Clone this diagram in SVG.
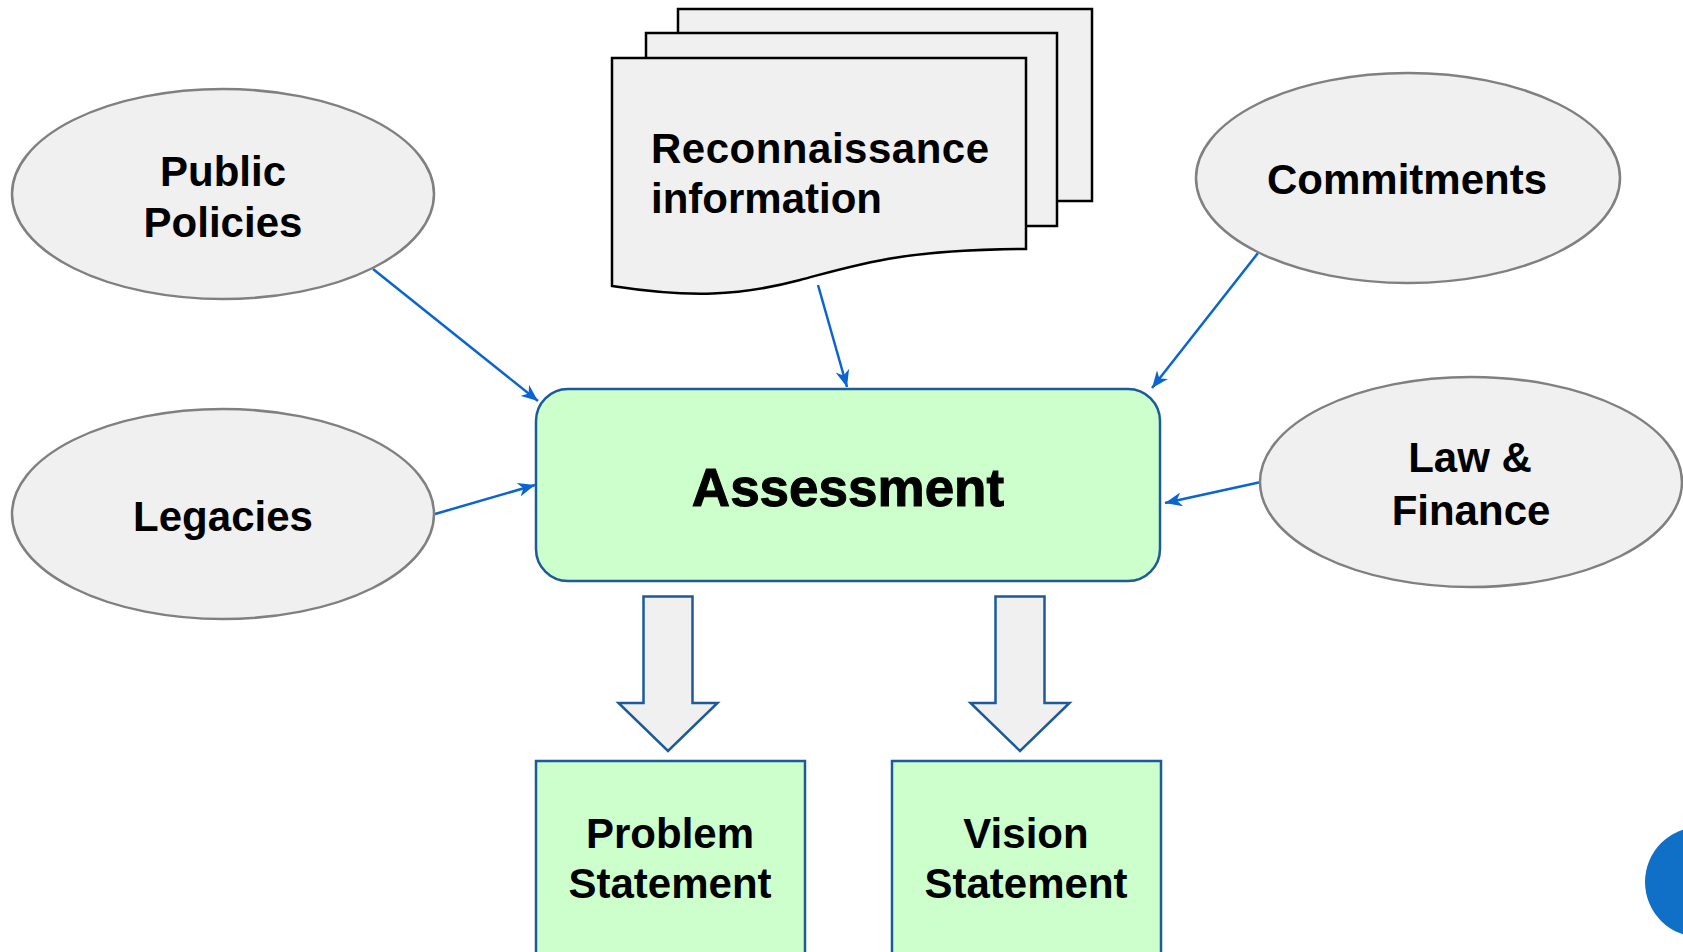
<svg xmlns="http://www.w3.org/2000/svg" width="1683" height="952" viewBox="0 0 1683 952">
<style>
.ell{fill:#f0f0f0;stroke:#808080;stroke-width:2.5}
.doc{fill:#f0f0f0;stroke:#000;stroke-width:2.5}
.grn{fill:#ccffcc;stroke:#1c5a99;stroke-width:2.5}
.blk{fill:#f0f0f0;stroke:#1c5a99;stroke-width:2.5;stroke-linejoin:miter}
.con{fill:none;stroke:#0a64d2;stroke-width:2.5;marker-end:url(#ah)}
text{font-family:"Liberation Sans",Arial,sans-serif;font-weight:bold;fill:#000;text-anchor:middle}
.t42{font-size:42px}
</style>
<defs>
<marker id="ah" markerUnits="userSpaceOnUse" markerWidth="18" markerHeight="14" refX="17" refY="7" orient="auto">
<path d="M0,0 L17,7 L0,14 L5,7 z" fill="#0a64d2"/>
</marker>
</defs>
<rect width="1683" height="952" fill="#fff"/>
<g id="connectors">
<line class="con" x1="373" y1="269" x2="538" y2="401"/>
<line class="con" x1="435" y1="514" x2="535" y2="485"/>
<line class="con" x1="818" y1="285" x2="847" y2="387"/>
<line class="con" x1="1258" y1="253" x2="1152" y2="388"/>
<line class="con" x1="1261" y1="482" x2="1165" y2="503"/>
<path class="blk" d="M643.5,596.5 H692.5 V703 H717.5 L668,751 L618.5,703 H643.5 Z"/>
<path class="blk" d="M995.5,596.5 H1044.5 V703 H1069.5 L1020,751 L970.5,703 H995.5 Z"/>
</g>
<g id="public-policies">
<ellipse class="ell" cx="223" cy="194" rx="211" ry="105"/>
<text class="t42" x="223" y="186">Public</text>
<text class="t42" x="223" y="237">Policies</text>
</g>
<g id="legacies">
<ellipse class="ell" cx="223" cy="514" rx="211" ry="105"/>
<text class="t42" x="223" y="531">Legacies</text>
</g>
<g id="reconnaissance">
<rect class="doc" x="678" y="9" width="414" height="192"/>
<rect class="doc" x="646" y="33" width="411" height="193"/>
<path class="doc" d="M612,58 H1026 V249 C900,250 860,264 800,280 C740,296 690,298 612,286 Z"/>
<text class="t42" x="651" y="163" style="text-anchor:start" textLength="338" lengthAdjust="spacing">Reconnaissance</text>
<text class="t42" x="651" y="213" style="text-anchor:start">information</text>
</g>
<g id="commitments">
<ellipse class="ell" cx="1408" cy="178" rx="212" ry="105"/>
<text class="t42" x="1407" y="194">Commitments</text>
</g>
<g id="law-finance">
<ellipse class="ell" cx="1471" cy="482" rx="211" ry="105"/>
<text class="t42" x="1470" y="472">Law &amp;</text>
<text class="t42" x="1471" y="525">Finance</text>
</g>
<g id="assessment">
<rect class="grn" x="536" y="389" width="624" height="192" rx="32" ry="32"/>
<text x="848" y="506" style="font-size:53px;stroke:#000;stroke-width:1">Assessment</text>
</g>
<g id="problem-statement">
<rect class="grn" x="536" y="761" width="269" height="200"/>
<text class="t42" x="670" y="848">Problem</text>
<text class="t42" x="670" y="898">Statement</text>
</g>
<g id="vision-statement">
<rect class="grn" x="892" y="761" width="269" height="200"/>
<text class="t42" x="1026" y="848">Vision</text>
<text class="t42" x="1026" y="898">Statement</text>
</g>
<circle cx="1700" cy="882" r="55" fill="#1070c8"/>
</svg>
